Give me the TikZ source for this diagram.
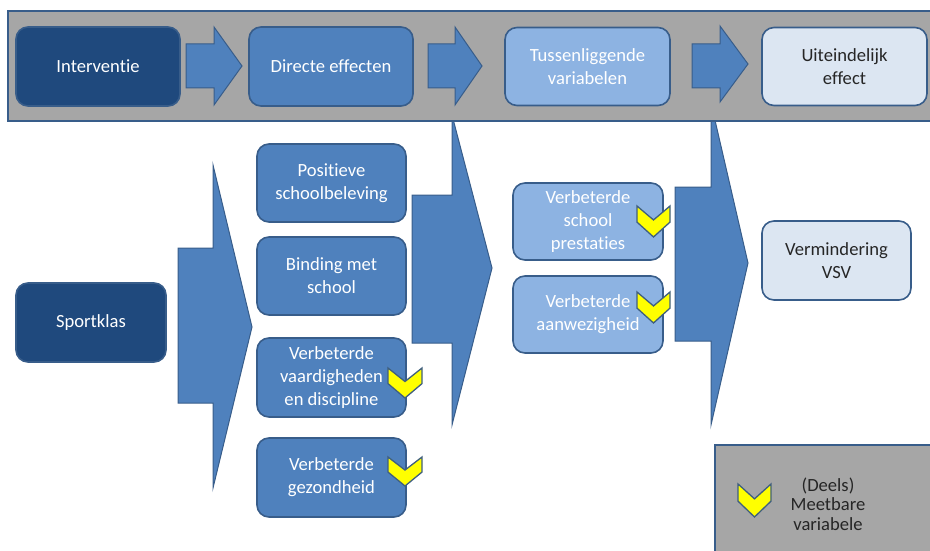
\documentclass[tikz,border=0pt]{standalone}
\usepackage{fontspec}
\setmainfont{Carlito}[Ligatures=NoCommon]
\definecolor{bandgray}{HTML}{A6A6A6}
\definecolor{bordblue}{HTML}{385D8A}
\definecolor{darkblue}{HTML}{1F497D}
\definecolor{midblue}{HTML}{4F81BD}
\definecolor{lightblue}{HTML}{8DB3E2}
\definecolor{paleblue}{HTML}{DCE6F2}
\definecolor{chevyellow}{HTML}{FFFF00}
\definecolor{chevline}{HTML}{3F5F7F}
\begin{document}
\begin{tikzpicture}[x=1pt,y=-1pt,
  box/.style={draw=bordblue, line width=1.6pt, rounded corners=12pt, align=center,
    font=\fontsize{18.6}{23}\selectfont, inner sep=1pt},
  darkbox/.style={box, fill=darkblue, text=white},
  midbox/.style={box, fill=midblue, text=white},
  lightbox/.style={box, fill=lightblue, text=white},
  palebox/.style={box, fill=paleblue, text=black!85},
  blockarrow/.style={fill=midblue, draw=bordblue, line width=1pt, line join=miter},
  chev/.style={fill=chevyellow, draw=chevline, line width=1.3pt, line join=miter},
  pics/chevron/.style n args={2}{code={
    \path[chev] (0,0) -- (#1/2,#2*0.45) -- (#1,0) -- (#1,#2*0.52) -- (#1/2,#2) -- (0,#2*0.52) -- cycle;
  }}]
\useasboundingbox (0,0) rectangle (930,551);

% big block arrows
\path[blockarrow] (178,248) -- (213,248) -- (213,165) -- (252,327) -- (213,488) -- (213,403) -- (178,403) -- cycle;
\path[blockarrow] (412,195) -- (452,195) -- (452,115) -- (492,268) -- (452,425) -- (452,343) -- (412,343) -- cycle;
\path[blockarrow] (675,187) -- (711,187) -- (711,103) -- (748,263) -- (711,425) -- (711,341) -- (675,341) -- cycle;

% top band
\path[fill=bandgray, draw=bordblue, line width=2pt] (8,11) rectangle (940,121);

% top arrows
\path[blockarrow] (186,44) -- (214,44) -- (214,27) -- (242,66) -- (214,105) -- (214,88) -- (186,88) -- cycle;
\path[blockarrow] (428,44) -- (455,44) -- (455,27) -- (482,66) -- (455,105) -- (455,88) -- (428,88) -- cycle;
\path[blockarrow] (692,44) -- (720,44) -- (720,26) -- (748,64) -- (720,102) -- (720,88) -- (692,88) -- cycle;

% top boxes
\node[darkbox, minimum width=164pt, minimum height=79pt] (interv) at (98,66.5) {Interventie};
\node[midbox, minimum width=164pt, minimum height=79pt] (direct) at (331,66.5) {Directe effecten};
\node[lightbox, minimum width=165pt, minimum height=78pt] (tussen) at (587.5,66.5) {Tussenliggende\\variabelen};
\node[palebox, minimum width=165pt, minimum height=78pt] (uiteind) at (844.5,66.5) {Uiteindelijk\\effect};

% left
\node[darkbox, minimum width=150pt, minimum height=79pt] (sport) at (91,322.5) {Sportklas};

% direct effects column
\node[midbox, minimum width=149pt, minimum height=78pt] (posit) at (331.5,183) {Positieve\\schoolbeleving};
\node[midbox, minimum width=149pt, minimum height=78pt] (binding) at (331.5,276) {Binding met\\school};
\node[midbox, minimum width=149pt, minimum height=79pt] (vaard) at (331.5,377.5) {Verbeterde\\vaardigheden\\en discipline};
\node[midbox, minimum width=149pt, minimum height=79pt] (gezond) at (331.5,477.5) {Verbeterde\\gezondheid};

% intermediate column
\node[lightbox, minimum width=150pt, minimum height=77pt] (prest) at (588,221.5) {Verbeterde\\school\\prestaties};
\node[lightbox, minimum width=150pt, minimum height=77pt] (aanw) at (588,314.5) {Verbeterde\\aanwezigheid};

% final
\node[palebox, minimum width=149pt, minimum height=79pt] (vsv) at (836.5,260.5) {Vermindering\\VSV};

% chevrons
\pic at (388,368) {chevron={34}{30}};
\pic at (388,457) {chevron={34}{29}};
\pic at (637,206) {chevron={33}{31}};
\pic at (637,292) {chevron={33}{31}};

% legend
\path[fill=bandgray, draw=bordblue, line width=2pt] (715,445) rectangle (940,560);
\pic at (738,484) {chevron={33}{33}};
\node[align=center, font=\fontsize{18.6}{19.5}\selectfont, text=black!85] (legtext) at (828,504) {(Deels)\\Meetbare\\variabele};
\end{tikzpicture}
\end{document}
